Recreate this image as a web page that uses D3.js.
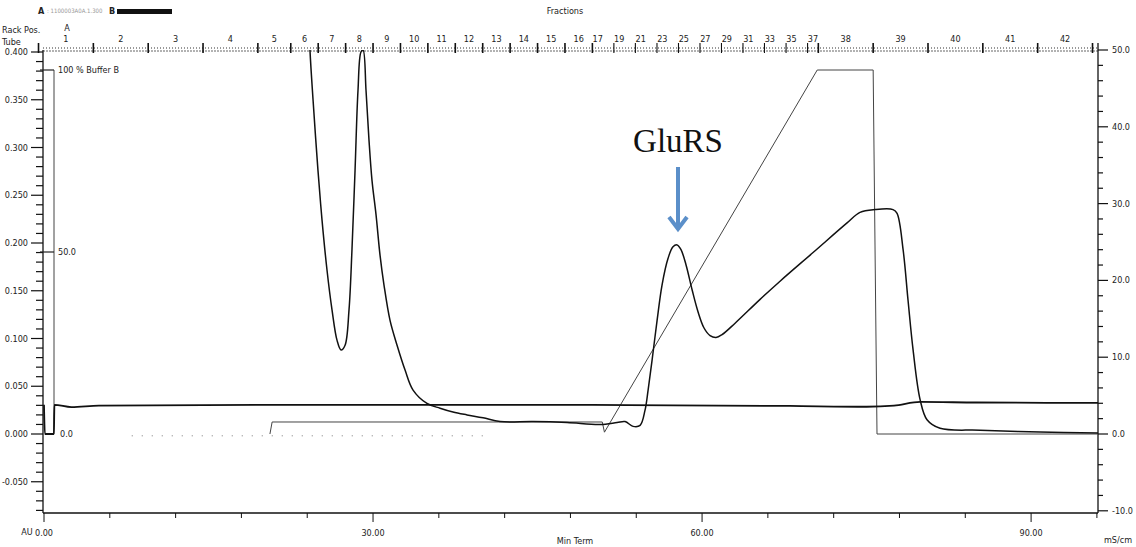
<!doctype html>
<html>
<head>
<meta charset="utf-8">
<title>GluRS chromatogram</title>
<script src="https://d3js.org/d3.v7.min.js"></script>
<style>
  body { margin: 0; background: #fff; }
  svg { display: block; }
  .t { font-family: "Liberation Sans Narrow", "DejaVu Sans Condensed", "Liberation Sans", sans-serif; font-size: 9px; fill: #222; }
</style>
</head>
<body>
<div id="chart"></div>
<script>
// UV absorbance trace (ml, AU)
var uvMl = [24.1, 24.25, 24.53, 24.98, 25.35, 25.80, 26.26, 26.72, 27.08, 27.45, 27.81, 28.08, 28.36, 28.63, 28.90, 29.09,
            29.36, 29.63, 29.91, 30.27, 30.64, 31.00, 31.55, 32.19, 32.92, 33.65, 34.92, 36.11, 37.29, 38.57, 40.03,
            41.58, 44.59, 47.69, 50.70, 52.25, 52.98, 53.71, 54.35, 54.80, 55.08, 55.44, 55.90, 56.35, 56.90, 57.35,
            57.72, 58.08, 58.54, 59.09, 59.63, 60.18, 60.73, 61.27, 61.82, 63.01, 65.29, 67.11, 70.12, 73.22, 74.40,
            75.77, 77.41, 77.78, 78.33, 78.78, 79.24, 79.88, 80.51, 81.70, 85.35, 90.82, 96.1];
var uvAu = [0.450, 0.402, 0.350, 0.276, 0.224, 0.172, 0.130, 0.098, 0.088, 0.093, 0.130, 0.193, 0.276, 0.360, 0.400, 0.402,
            0.360, 0.308, 0.265, 0.230, 0.187, 0.156, 0.119, 0.093, 0.067, 0.046, 0.032, 0.027, 0.023, 0.020, 0.017,
            0.013, 0.013, 0.012, 0.010, 0.012, 0.013, 0.008, 0.009, 0.025, 0.046, 0.077, 0.119, 0.156, 0.184, 0.196,
            0.198, 0.193, 0.177, 0.151, 0.128, 0.111, 0.103, 0.101, 0.104, 0.116, 0.141, 0.160, 0.190, 0.221, 0.232,
            0.235, 0.235, 0.231, 0.193, 0.140, 0.088, 0.036, 0.015, 0.006, 0.004, 0.002, 0.001];

// conductivity trace (ml, mS/cm)
var condMl = [0, 0.08, 0.9, 0.95, 2.5, 5, 20, 50, 68, 75, 77.5, 79.9, 85, 96.1];
var condMs = [3.8, 0.0, 0.0, 3.8, 3.5, 3.7, 3.8, 3.78, 3.65, 3.55, 3.7, 4.17, 4.1, 4.05];

// gradient, % Buffer B (ml, %)
var gradMl = [20.6, 20.8, 50.9, 51.1, 70.5, 75.6, 75.95, 96.1];
var gradB = [0, 3.3, 3.3, 0.5, 100, 100, 0, 0];

// fraction marks
var fracEdges = [-0.5, 4.5, 9.5, 14.5, 19.5, 22.5, 25, 27.5, 30, 32.5, 35, 37.5, 40, 42.5, 45, 47.5, 50,
                 50.98, 51.96, 52.94, 53.92, 54.90, 55.89, 56.87, 57.85, 58.83, 59.81, 60.79, 61.77, 62.75,
                 63.73, 64.71, 65.69, 66.67, 67.66, 68.64, 69.62, 70.6, 75.6, 80.6, 85.6, 90.6, 95.6];

var auTicks = [0.400, 0.350, 0.300, 0.250, 0.200, 0.150, 0.100, 0.050, 0.000, -0.050];
var auLabels = ["0.400", "0.350", "0.300", "0.250", "0.200", "0.150", "0.100", "0.050", "0.000", "-0.050"];
var msTicks = [50, 40, 30, 20, 10, 0, -10];
var msLabels = ["50.0", "40.0", "30.0", "20.0", "10.0", "0.0", "-10.0"];
var mlTicks = [0, 30, 60, 90];
var mlLabels = ["0.00", "30.00", "60.00", "90.00"];

var width = 1136, height = 547;
var L = 43, R = 1098, T = 50, B = 513;

var x = d3.scaleLinear().domain([0, 96.1]).range([44, R]);
var yAu = d3.scaleLinear().domain([0, 0.4]).range([434, 52]);
var yMs = d3.scaleLinear().domain([0, 50]).range([434, 50]);
var yB = d3.scaleLinear().domain([0, 100]).range([434, 70]);

var svg = d3.select('#chart').append('svg')
            .attr('width', width)
            .attr('height', height);

svg.append('clipPath').attr('id', 'plot')
   .append('rect').attr('x', L).attr('y', T).attr('width', R - L).attr('height', B - T);

// header
svg.append('text').attr('class', 't').attr('x', 38).attr('y', 14).style('font-weight', 'bold').text('A');
svg.append('text').attr('class', 't').attr('x', 47).attr('y', 13).style('font-size', '6px').style('fill', '#999').text(': 1100003A0A.1.300');
svg.append('text').attr('class', 't').attr('x', 109).attr('y', 14).style('font-weight', 'bold').text('B');
svg.append('rect').attr('x', 117).attr('y', 9).attr('width', 55).attr('height', 5).attr('fill', '#111');
svg.append('text').attr('class', 't').attr('x', 565).attr('y', 14).attr('text-anchor', 'middle').text('Fractions');
svg.append('text').attr('class', 't').attr('x', 2).attr('y', 33).text('Rack Pos.');
svg.append('text').attr('class', 't').attr('x', 2).attr('y', 45).text('Tube');
svg.append('text').attr('class', 't').attr('x', 67).attr('y', 31).attr('text-anchor', 'middle').text('A');

// fraction band
svg.append('line').attr('x1', L).attr('x2', R).attr('y1', 48).attr('y2', 48)
   .attr('stroke', '#777').attr('stroke-width', 1.5).attr('stroke-dasharray', '1,2');
svg.append('line').attr('x1', L).attr('x2', R).attr('y1', 51).attr('y2', 51)
   .attr('stroke', '#999').attr('stroke-width', 1.5).attr('stroke-dasharray', '2,1');

var fracG = svg.append('g');
fracEdges.forEach(function(e, i) {
   if (i <= 16 || i >= 37 || i % 2 == 0) {
      fracG.append('line').attr('x1', x(e)).attr('x2', x(e)).attr('y1', 43).attr('y2', 53)
           .attr('stroke', '#111').attr('stroke-width', (i <= 16 || i >= 37) ? 1.6 : 1.1);
   }
   if (i < fracEdges.length - 1) {
      var n = i + 1;
      if (n <= 16 || n >= 38 || n % 2 == 1) {
         fracG.append('text').attr('class', 't')
              .attr('x', x((e + fracEdges[i + 1]) / 2)).attr('y', 42)
              .attr('text-anchor', 'middle').text(n);
      }
   }
});

// left AU axis
svg.append('line').attr('x1', L).attr('x2', L).attr('y1', T).attr('y2', B).attr('stroke', '#111').attr('stroke-width', 1.3);
d3.range(-8, 41).forEach(function(k) {
   var v = k / 100;
   var major = k % 5 == 0;
   svg.append('line').attr('x1', major ? 31 : 36).attr('x2', L).attr('y1', yAu(v)).attr('y2', yAu(v))
      .attr('stroke', '#111').attr('stroke-width', 1.2);
});
auTicks.forEach(function(v, i) {
   svg.append('text').attr('class', 't').attr('x', 28).attr('y', yAu(v) + 3)
      .attr('text-anchor', 'end').text(auLabels[i]);
});
svg.append('text').attr('class', 't').attr('x', 27).attr('y', 535).attr('text-anchor', 'middle').text('AU');

// % buffer B axis
svg.append('line').attr('x1', 54).attr('x2', 54).attr('y1', yB(100)).attr('y2', yB(0)).attr('stroke', '#444').attr('stroke-width', 1);
[100, 50].forEach(function(v) {
   svg.append('line').attr('x1', 40).attr('x2', 54).attr('y1', yB(v)).attr('y2', yB(v)).attr('stroke', '#222').attr('stroke-width', 1.2);
});
svg.append('text').attr('class', 't').attr('x', 58).attr('y', yB(100) + 3).text('100 % Buffer B');
svg.append('text').attr('class', 't').attr('x', 58).attr('y', yB(50) + 3).text('50.0');
svg.append('text').attr('class', 't').attr('x', 60).attr('y', yB(0) + 3).text('0.0');

// right mS/cm axis
svg.append('line').attr('x1', R).attr('x2', R).attr('y1', 43).attr('y2', B).attr('stroke', '#111').attr('stroke-width', 1.3);
d3.range(-10, 51, 2).forEach(function(v) {
   var major = v % 10 == 0;
   svg.append('line').attr('x1', R).attr('x2', R + (major ? 10 : 5)).attr('y1', yMs(v)).attr('y2', yMs(v))
      .attr('stroke', '#111').attr('stroke-width', 1.2);
});
msTicks.forEach(function(v, i) {
   svg.append('text').attr('class', 't').attr('x', 1112).attr('y', yMs(v) + 3).text(msLabels[i]);
});
svg.append('text').attr('class', 't').attr('x', 1118).attr('y', 543).attr('text-anchor', 'middle').text('mS/cm');

// bottom ml axis
svg.append('line').attr('x1', L).attr('x2', R).attr('y1', B).attr('y2', B).attr('stroke', '#111').attr('stroke-width', 1.5);
d3.range(0, 97, 6).forEach(function(v) {
   var major = v % 30 == 0;
   svg.append('line').attr('x1', x(v)).attr('x2', x(v)).attr('y1', B).attr('y2', B + (major ? 9 : 5))
      .attr('stroke', '#111').attr('stroke-width', 1);
});
mlTicks.forEach(function(v, i) {
   svg.append('text').attr('class', 't').attr('x', x(v)).attr('y', 536).attr('text-anchor', 'middle').text(mlLabels[i]);
});
svg.append('text').attr('class', 't').attr('x', 575).attr('y', 544).attr('text-anchor', 'middle').text('Min Term');

// traces
var plot = svg.append('g').attr('clip-path', 'url(#plot)');

plot.append('line').attr('x1', x(8)).attr('x2', x(40)).attr('y1', yB(-0.5)).attr('y2', yB(-0.5))
    .attr('stroke', '#777').attr('stroke-width', 1).attr('stroke-dasharray', '1,9');

var gradLine = d3.line().x(function(d) { return x(d[0]); }).y(function(d) { return yB(d[1]); });
plot.append('path').datum(d3.zip(gradMl, gradB))
    .attr('d', gradLine).attr('fill', 'none').attr('stroke', '#444').attr('stroke-width', 1);

var condLine = d3.line().x(function(d) { return x(d[0]); }).y(function(d) { return yMs(d[1]); }).curve(d3.curveMonotoneX);
plot.append('path').datum(d3.zip(condMl, condMs))
    .attr('d', condLine).attr('fill', 'none').attr('stroke', '#111').attr('stroke-width', 1.8);

var uvLine = d3.line().x(function(d) { return x(d[0]); }).y(function(d) { return yAu(d[1]); }).curve(d3.curveCatmullRom);
plot.append('path').datum(d3.zip(uvMl, uvAu))
    .attr('d', uvLine).attr('fill', 'none').attr('stroke', '#111').attr('stroke-width', 1.5);

// annotation
svg.append('text').attr('x', 678).attr('y', 152).attr('text-anchor', 'middle')
   .style('font-family', '"Liberation Serif", "DejaVu Serif", serif').style('font-size', '33px').style('fill', '#111')
   .text('GluRS');
svg.append('line').attr('x1', 678).attr('x2', 678).attr('y1', 167).attr('y2', 228)
   .attr('stroke', '#5b8fc9').attr('stroke-width', 4);
svg.append('path').attr('d', 'M669,217 L678,229 L687,217')
   .attr('fill', 'none').attr('stroke', '#5b8fc9').attr('stroke-width', 4).attr('stroke-linejoin', 'miter');
</script>
</body>
</html>
